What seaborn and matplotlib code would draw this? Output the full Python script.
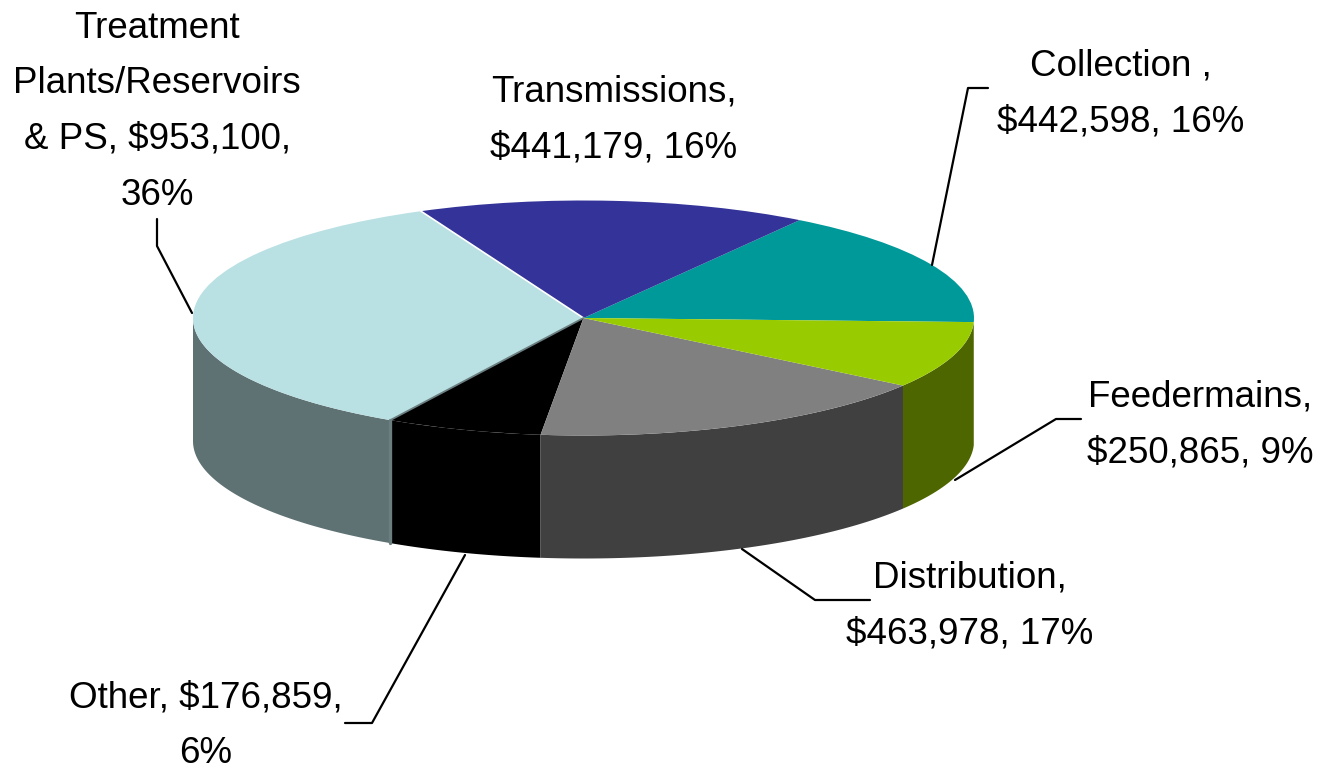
import numpy as np
import matplotlib
matplotlib.use("Agg")
import matplotlib.pyplot as plt
from matplotlib.lines import Line2D
import seaborn as sns

# data (counter-clockwise from the right edge)
categories = ["Collection", "Transmissions", "Treatment Plants/Reservoirs & PS",
              "Other", "Distribution", "Feedermains"]
values = [442598, 441179, 953100, 176859, 463978, 250865]
percents = [16, 16, 36, 6, 17, 9]
top_colors = ["#009999", "#333399", "#B9E0E3", "#000000", "#808080", "#99CC00"]
side_colors = ["#004D4D", "#1A1A4D", "#5E7173", "#000000", "#404040", "#4D6600"]
label_lines = [
    ["Collection ,", "${:,}, {}%"],
    ["Transmissions,", "${:,}, {}%"],
    ["Treatment", "Plants/Reservoirs", "& PS, ${:,},", "{}%"],
    ["Other, ${:,},", "{}%"],
    ["Distribution,", "${:,}, {}%"],
    ["Feedermains,", "${:,}, {}%"],
]

W, H = 1330, 770
CX, CY, RX, RY, DEPTH = 583.5, 318.0, 390.5, 117.5, 123.0
START = -2.0

sns.set_theme(style="white")
plt.rcParams["font.family"] = ["Liberation Sans", "DejaVu Sans"]

fig = plt.figure(figsize=(W / 100, H / 100), dpi=100, facecolor="white")
ax = fig.add_axes([0, 0, 1, 1])

# top face of the pie, squashed by the axis scales
ax.pie(values, colors=top_colors, startangle=START, counterclock=True, radius=1,
       wedgeprops=dict(linewidth=0, antialiased=True), normalize=True, frame=True)
ax.set_aspect("auto")
ax.set_xlim(-CX / RX, (W - CX) / RX)
ax.set_ylim((CY - H) / RY, CY / RY)
ax.axis("off")
for w in ax.patches:
    w.set_zorder(3)

# visible side wall
d = DEPTH / RY
edges = START + np.concatenate([[0], np.cumsum(values)]) / np.sum(values) * 360
for a0, a1, col in zip(edges[:-1], edges[1:], side_colors):
    lo, hi = max(a0, 180), min(a1, 360)
    if hi <= lo:
        continue
    t = np.radians(np.linspace(lo, hi, 120))
    x, y = np.cos(t), np.sin(t)
    ax.fill(np.r_[x, x[::-1]], np.r_[y, y[::-1] - d], color=col, lw=0, zorder=2)

# thin separators seen in the picture: slice edges taken from the values
e_tt = np.radians(edges[2])   # Transmissions / Treatment
e_to = np.radians(edges[3])   # Treatment / Other
ax.plot([0, np.cos(e_tt)], [0, np.sin(e_tt)], color="white", lw=1.2, zorder=4)
ax.plot([0, np.cos(e_to)], [0, np.sin(e_to)], color="#6A7E80", lw=1.3, zorder=4)
ax.plot([np.cos(e_to)] * 2, [np.sin(e_to), np.sin(e_to) - d], color="#6A7E80", lw=2.4, zorder=4)


def px(x, y):
    return x / W, 1 - y / H


# labels
text_pos = [(1121, 66), (614, 92), (157, 28), (206, 698), (970, 578), (1200, 397)]
LINE_GAP = 55.7
for lines, v, p, (tx, ty) in zip(label_lines, values, percents, text_pos):
    for i, ln in enumerate(lines):
        if "{:,}" in ln:
            s = ln.format(v, p)
        elif "{}" in ln:
            s = ln.format(p)
        else:
            s = ln
        fx, fy = px(tx, ty + i * LINE_GAP)
        fig.text(fx, fy, s, ha="center", va="center", fontsize=26.5, color="black", zorder=6)

# leader lines
leaders = [
    [(157, 219), (157, 246), (192, 313)],
    [(988, 88), (968, 88), (932, 265)],
    [(1081, 419), (1056, 419), (955, 480)],
    [(870, 600), (815, 600), (742, 549)],
    [(345, 723), (372, 723), (465, 555)],
]
for seg in leaders:
    xs, ys = zip(*[px(*p) for p in seg])
    fig.add_artist(Line2D(xs, ys, color="black", lw=1.6, zorder=6))

fig.savefig("out.png", dpi=100, facecolor="white")
